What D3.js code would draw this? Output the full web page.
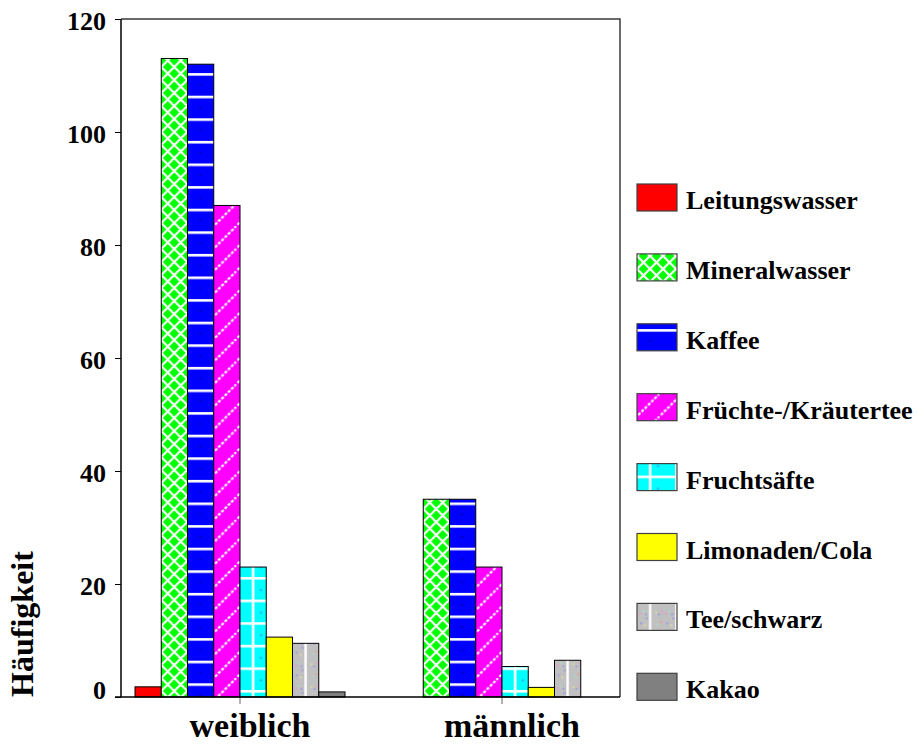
<!DOCTYPE html>
<html>
<head>
<meta charset="utf-8">
<script src="https://cdn.jsdelivr.net/npm/d3@7"></script>
<style>
  html, body { margin: 0; padding: 0; background: #ffffff; }
  svg { display: block; }
  text { font-family: "Liberation Serif", "Times New Roman", serif; font-weight: bold; fill: #000; }
</style>
</head>
<body>
<svg id="chart" width="917" height="745"></svg>
<script>
// Getränke nach Geschlecht
const categories = ["weiblich", "männlich"];
const series = ["Leitungswasser", "Mineralwasser", "Kaffee", "Früchte-/Kräutertee",
                "Fruchtsäfte", "Limonaden/Cola", "Tee/schwarz", "Kakao"];
const valuesWeiblich  = [1.8, 113, 112, 87, 23, 10.6, 9.5, 0.9];
const valuesMaennlich = [0, 35, 35, 23, 5.4, 1.7, 6.5, 0];
const yTicks = [0, 20, 40, 60, 80, 100, 120];
const seriesColors = ["#ff0000", "#00ff00", "#0000ff", "#ff00ff",
                      "#00ffff", "#ffff00", "#c0c0c0", "#808080"];

const svg = d3.select("#chart");
const frame = { left: 121, right: 620, top: 19, bottom: 697 };

const y = d3.scaleLinear().domain([0, 120]).range([frame.bottom, frame.top]);
const x0 = d3.scaleBand().domain(categories).range([109, 633]).padding(0);
const x1 = d3.scaleBand().domain(series).range([-105, 105]).padding(0);
const bw = x1.bandwidth();

// ---- fill patterns -------------------------------------------------------
const defs = svg.append("defs");
const period = 22.6;

// Mineralwasser: green with white diamond lattice
const pMin = defs.append("pattern").attr("id", "fill-1")
  .attr("patternUnits", "userSpaceOnUse").attr("width", 13).attr("height", 13).attr("y", 2);
pMin.append("rect").attr("width", 13).attr("height", 13).attr("fill", "#00ff00");
pMin.append("path").attr("d", "M-1,-1L14,14M14,-1L-1,14")
  .attr("stroke", "#ffffff").attr("stroke-width", 2.2).attr("fill", "none");

// Kaffee: blue with white horizontal bands
const pKaf = defs.append("pattern").attr("id", "fill-2")
  .attr("patternUnits", "userSpaceOnUse").attr("width", bw).attr("height", period).attr("y", 5.3);
pKaf.append("rect").attr("width", bw).attr("height", period).attr("fill", "#0000ff");
pKaf.append("rect").attr("width", bw).attr("height", 2.6).attr("fill", "#ffffff");
pKaf.append("rect").attr("x", 12).attr("y", 11).attr("width", 1.6).attr("height", 1.6).attr("fill", "#00008a");

// Früchte-/Kräutertee: magenta with dotted white diagonals
const pTee = defs.append("pattern").attr("id", "fill-3")
  .attr("patternUnits", "userSpaceOnUse").attr("width", period).attr("height", period);
pTee.append("rect").attr("width", period).attr("height", period).attr("fill", "#ff00ff");
pTee.append("path").attr("d", `M-2,${period + 2}L${period + 2},-2`)
  .attr("stroke", "#ffffff").attr("stroke-width", 2.2).attr("stroke-dasharray", "3,1.6").attr("fill", "none");

// Fruchtsäfte: cyan with white grid
const pSaft = defs.append("pattern").attr("id", "fill-4")
  .attr("patternUnits", "userSpaceOnUse").attr("width", bw).attr("height", period).attr("y", 12);
pSaft.append("rect").attr("width", bw).attr("height", period).attr("fill", "#00ffff");
pSaft.append("rect").attr("width", bw).attr("height", 2.6).attr("fill", "#ffffff");
pSaft.append("rect").attr("x", bw / 2 - 1.3).attr("width", 2.6).attr("height", period).attr("fill", "#ffffff");
pSaft.append("rect").attr("x", 20).attr("y", 12).attr("width", 2).attr("height", 2).attr("fill", "#3aa0f0");

// Tee/schwarz: light grey with white centre stripe and coloured speckles
const pSchw = defs.append("pattern").attr("id", "fill-6")
  .attr("patternUnits", "userSpaceOnUse").attr("width", bw).attr("height", period).attr("y", 6);
pSchw.append("rect").attr("width", bw).attr("height", period).attr("fill", "#c0c0c0");
pSchw.append("rect").attr("x", bw / 2 - 1.2).attr("width", 2.4).attr("height", period).attr("fill", "#ffffff");
const speckles = [
  [2, 3, "#e0a0c8"], [5, 1, "#a8d8d0"], [8, 4, "#a0a0e0"], [18, 2, "#e0d8a0"], [21, 4, "#a0a0e0"], [24, 1, "#e0a0c8"],
  [3, 13, "#a0a0e0"], [7, 15, "#e0d8a0"], [19, 14, "#a8d8d0"], [23, 12, "#e0a0a0"], [9, 8, "#a0a0e0"]
];
speckles.forEach(([sx, sy, c]) =>
  pSchw.append("rect").attr("x", sx).attr("y", sy).attr("width", 2).attr("height", 2).attr("fill", c));

const patterned = new Set([1, 2, 3, 4, 6]);
const fillFor = i => patterned.has(i) ? `url(#fill-${i})` : seriesColors[i];

// ---- frame ---------------------------------------------------------------
svg.append("path")
  .attr("d", `M${frame.left},${frame.top}H${frame.right}V${frame.bottom}`)
  .attr("fill", "none").attr("stroke", "#3a3a3a").attr("stroke-width", 1.5);

// ---- bars ----------------------------------------------------------------
const table = categories.map((c, ci) => ({
  category: c,
  values: series.map((s, si) => ({
    series: s, index: si,
    value: ci === 0 ? valuesWeiblich[si] : valuesMaennlich[si]
  }))
}));

const groups = svg.append("g").selectAll("g.group")
  .data(table).join("g").attr("class", "group");

groups.each(function (d) {
  const cx = x0(d.category) + x0.bandwidth() / 2;
  d3.select(this).selectAll("g.bar")
    .data(d.values.filter(v => v.value > 0))
    .join("g").attr("class", "bar")
    .attr("transform", v => `translate(${cx + x1(v.series)},0)`)
    .append("rect")
    .attr("x", 0)
    .attr("y", v => y(v.value))
    .attr("width", bw)
    .attr("height", v => y(0) - y(v.value))
    .attr("fill", v => fillFor(v.index))
    .attr("stroke", "#000").attr("stroke-width", 1);
});

// ---- y axis --------------------------------------------------------------
const yAxis = svg.append("g")
  .attr("transform", `translate(${frame.left},0)`)
  .call(d3.axisLeft(y).tickValues(yTicks).tickSize(6).tickPadding(9).tickFormat(d3.format("d")));
yAxis.select(".domain").remove();
yAxis.selectAll(".tick line").attr("stroke", "#000");
yAxis.selectAll(".tick text")
  .attr("font-size", 26).attr("font-weight", "bold")
  .attr("font-family", '"Liberation Serif", serif')
  .attr("dy", d => d === 0 ? "0.05em" : "0.4em")
  .attr("fill", "#000");
svg.append("line")
  .attr("x1", frame.left).attr("x2", frame.left)
  .attr("y1", frame.top).attr("y2", frame.bottom)
  .attr("stroke", "#000").attr("stroke-width", 1.5);

// ---- x axis --------------------------------------------------------------
const xAxis = svg.append("g")
  .attr("transform", `translate(0,${frame.bottom})`)
  .call(d3.axisBottom(x0).tickSize(7).tickFormat(""));
xAxis.select(".domain").remove();
xAxis.selectAll(".tick line").attr("stroke", "#808080").attr("stroke-width", 1.2);
svg.append("line")
  .attr("x1", 115).attr("x2", frame.right)
  .attr("y1", frame.bottom).attr("y2", frame.bottom)
  .attr("stroke", "#000").attr("stroke-width", 1.5);

svg.append("g").selectAll("text")
  .data(categories).join("text")
  .attr("x", c => x0(c) + x0.bandwidth() / 2 + 10)
  .attr("y", 737)
  .attr("text-anchor", "middle")
  .attr("font-size", 34)
  .text(c => c);

// ---- y title -------------------------------------------------------------
svg.append("text")
  .attr("transform", "translate(33,624) rotate(-90)")
  .attr("text-anchor", "middle")
  .attr("font-size", 32)
  .text("Häufigkeit");

// ---- legend --------------------------------------------------------------
const legendTop = 184, legendStep = 69.9;
const legend = svg.append("g").selectAll("g.item")
  .data(series).join("g").attr("class", "item");
legend.append("g")
  .attr("transform", (s, i) => `translate(637,${legendTop + i * legendStep})`)
  .append("rect")
  .attr("width", 40).attr("height", 27)
  .attr("fill", (s, i) => fillFor(i))
  .attr("stroke", "#404040").attr("stroke-width", 1.2);
legend.append("text")
  .attr("x", 686)
  .attr("y", (s, i) => legendTop + i * legendStep + 25)
  .attr("font-size", 26)
  .text(s => s);
</script>
</body>
</html>
